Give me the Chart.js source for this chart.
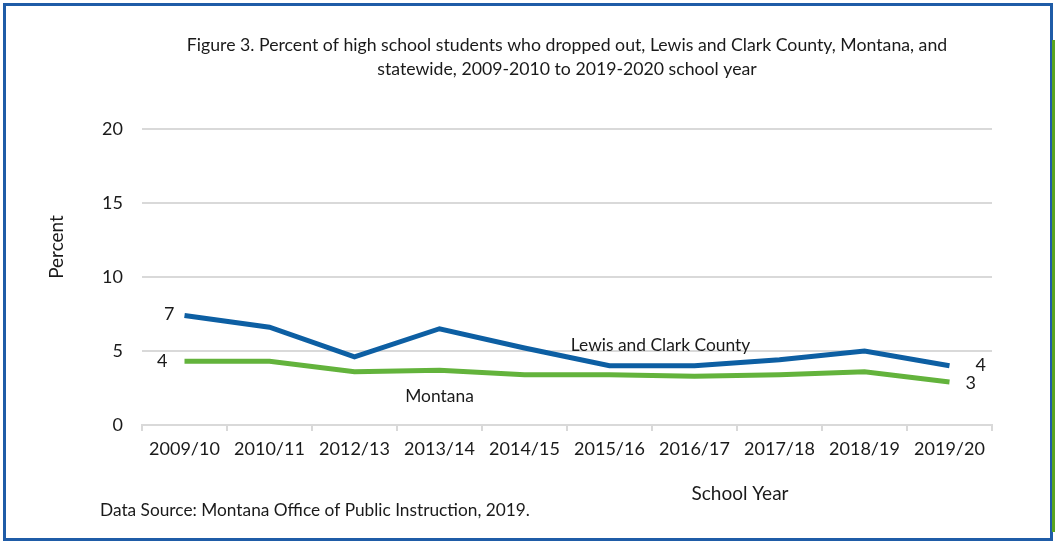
<!DOCTYPE html>
<html>
<head>
<meta charset="utf-8">
<script src="https://cdn.jsdelivr.net/npm/chart.js@4.4.0/dist/chart.umd.min.js"></script>
<style>
  html, body { margin: 0; padding: 0; background: #fff; }
  #wrap { position: relative; width: 1055px; height: 542px; }
  #frame { position: absolute; left: 3px; top: 3px; width: 1044px; height: 532px; border: 3px solid #1f5ca7; box-sizing: content-box; pointer-events: none; }
  #greenbar { position: absolute; left: 1052px; top: 40px; width: 3px; height: 492px; background: #5aa51e; }
  canvas { position: absolute; left: 0; top: 0; }
</style>
</head>
<body>
<div id="wrap">
  <canvas id="chart" width="1055" height="542"></canvas>
  <div id="frame"></div>
  <div id="greenbar"></div>
</div>
<script>
// school years on the x axis
const schoolYears = ['2009/10', '2010/11', '2012/13', '2013/14', '2014/15', '2015/16', '2016/17', '2017/18', '2018/19', '2019/20'];

// percent dropped out
const lewisClark = [7.4, 6.6, 4.6, 6.5, 5.2, 4.0, 4.0, 4.4, 5.0, 4.0];
const montana = [4.3, 4.3, 3.6, 3.7, 3.4, 3.4, 3.3, 3.4, 3.6, 2.9];

const yTicks = [0, 5, 10, 15, 20];

const titleLines = [
    'Figure 3. Percent of high school students who dropped out, Lewis and Clark County, Montana, and',
    'statewide, 2009-2010 to 2019-2020 school year'
];

const FONT = 'Lato';
const TEXT = '#1a1a1a';
const BLUE = '#0d5fa3';
const GREEN = '#63b33c';

// series name labels sit in the plot, first/last values get printed at the ends
const seriesNames = [
    { text: 'Lewis and Clark County', dataset: 0, at: 5.6, value: 5.4 },
    { text: 'Montana', dataset: 1, at: 3.0, value: 1.95 }
];

const labelPlugin = {
    id: 'labels',
    afterDatasetsDraw(chart) {
        const ctx = chart.ctx;
        const x = chart.scales.x;
        const y = chart.scales.y;
        ctx.save();
        ctx.fillStyle = TEXT;
        ctx.textBaseline = 'middle';

        // end value labels
        ctx.font = `18px ${FONT}`;
        ctx.textAlign = 'right';
        const last = schoolYears.length - 1;
        ctx.fillText(Math.round(lewisClark[0]), x.getPixelForValue(0) - 10, y.getPixelForValue(lewisClark[0]) - 1);
        ctx.fillText(Math.round(montana[0]), x.getPixelForValue(0) - 17, y.getPixelForValue(montana[0]));
        ctx.textAlign = 'left';
        ctx.fillText(Math.round(lewisClark[last]), x.getPixelForValue(last) + 26, y.getPixelForValue(lewisClark[last]) - 1);
        ctx.fillText(Math.round(montana[last]), x.getPixelForValue(last) + 16, y.getPixelForValue(montana[last]) + 1);

        // series names
        ctx.font = `17.4px ${FONT}`;
        ctx.textAlign = 'center';
        seriesNames.forEach(s => {
            const px = x.left + (x.right - x.left) * (s.at + 0.5) / schoolYears.length;
            ctx.fillText(s.text, px, y.getPixelForValue(s.value));
        });

        // axis titles and the source note
        ctx.font = `19px ${FONT}`;
        ctx.fillText('School Year', 740, 494);
        ctx.save();
        ctx.translate(57, 247);
        ctx.rotate(-Math.PI / 2);
        ctx.fillText('Percent', 0, 0);
        ctx.restore();
        ctx.font = `17.3px ${FONT}`;
        ctx.textAlign = 'left';
        ctx.fillText('Data Source: Montana Office of Public Instruction, 2019.', 100, 510);
        ctx.restore();
    }
};

new Chart(document.getElementById('chart').getContext('2d'), {
    type: 'line',
    data: {
        labels: schoolYears,
        datasets: [{
            label: 'Lewis and Clark County',
            data: lewisClark,
            borderColor: BLUE,
            borderWidth: 5,
            tension: 0,
            pointRadius: 0
        }, {
            label: 'Montana',
            data: montana,
            borderColor: GREEN,
            borderWidth: 5,
            tension: 0,
            pointRadius: 0
        }]
    },
    options: {
        responsive: false,
        animation: false,
        layout: {
            padding: { left: 0, right: 63, top: 0, bottom: 0 }
        },
        plugins: {
            legend: { display: false },
            tooltip: { enabled: false },
            title: {
                display: true,
                fullSize: false,
                text: titleLines,
                color: TEXT,
                font: { family: FONT, size: 17.7, weight: 'normal', lineHeight: 1.35 },
                padding: { top: 33, bottom: 48 }
            }
        },
        scales: {
            x: {
                offset: true,
                grid: {
                    offset: true,
                    drawOnChartArea: false,
                    drawTicks: true,
                    tickLength: 6,
                    color: '#d9d9d9',
                    lineWidth: 2
                },
                border: { display: true, color: '#d9d9d9', width: 2 },
                ticks: {
                    color: TEXT,
                    font: { family: FONT, size: 18 },
                    padding: 7,
                    maxRotation: 0,
                    autoSkip: false
                },
                afterFit(axis) { axis.height = 542 - 425; }
            },
            y: {
                min: 0,
                max: 20,
                afterBuildTicks(axis) { axis.ticks = yTicks.map(v => ({ value: v })); },
                grid: { color: '#d9d9d9', lineWidth: 2, drawTicks: false },
                border: { display: false },
                ticks: {
                    color: TEXT,
                    font: { family: FONT, size: 18 },
                    padding: 19,
                    crossAlign: 'near'
                },
                afterFit(axis) { axis.width = 142; }
            }
        }
    },
    plugins: [labelPlugin]
});
</script>
</body>
</html>
